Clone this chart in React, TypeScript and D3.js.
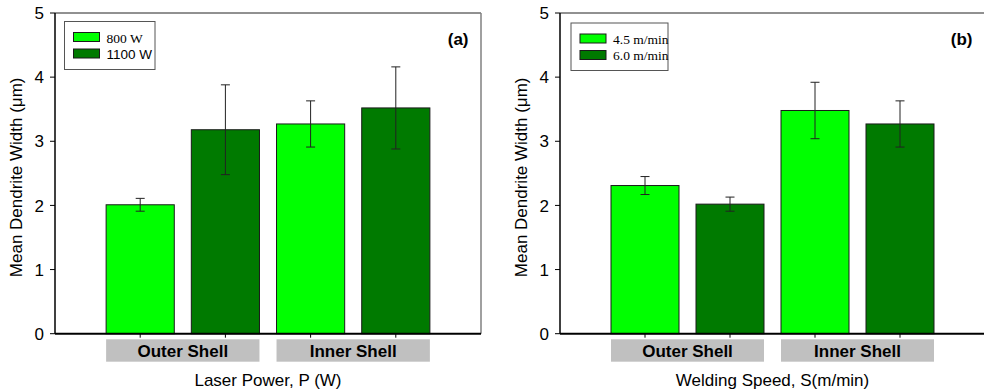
import React from "react";
import { scaleBand, scaleLinear } from "d3";

// data
const categories = ["Outer Shell", "Inner Shell"];
const yTicks = [0, 1, 2, 3, 4, 5];

const powerSeries = ["800 W", "1100 W"];
const power800 = [2.01, 3.27];
const power800Err = [0.1, 0.36];
const power1100 = [3.18, 3.52];
const power1100Err = [0.7, 0.64];

const speedSeries = ["4.5 m/min", "6.0 m/min"];
const speed45 = [2.31, 3.48];
const speed45Err = [0.14, 0.44];
const speed60 = [2.02, 3.27];
const speed60Err = [0.11, 0.36];

const colors = ["#00ff00", "#007a00"];
const SANS = "Arial, 'Liberation Sans', Helvetica, sans-serif";
const SERIF = "'Times New Roman', 'Liberation Serif', serif";

const Panel = ({ left, right, tag, xTitle, series, means, errs, legendFonts, legendBox }) => {
  const top = 13;
  const bottom = 333.7;

  const y = scaleLinear().domain([0, 5]).range([bottom, top]);
  const step = (right - left) / 5;
  const x0 = scaleBand().domain(categories).range([left + step / 2, right - step / 2]);
  const x1 = scaleBand()
    .domain(series)
    .range([0, x0.bandwidth()])
    .paddingInner(0.2)
    .paddingOuter(0.1);

  const bw = x1.bandwidth();

  return (
    <g>
      {/* frame */}
      <line x1={left} x2={right} y1={top} y2={top} stroke="#222" strokeWidth={1} />
      <line x1={right} x2={right} y1={top} y2={bottom} stroke="#808080" strokeWidth={1.5} />

      {/* bars */}
      {categories.map((c, ci) =>
        series.map((s, si) => {
          const bx = x0(c) + x1(s);
          const v = means[si][ci];
          const e = errs[si][ci];
          const cx = bx + bw / 2;
          return (
            <g key={c + s}>
              <rect
                x={bx}
                y={y(v)}
                width={bw}
                height={y(0) - y(v)}
                fill={colors[si]}
                stroke="#1a1a1a"
                strokeWidth={1}
              />
              <line x1={cx} x2={cx} y1={y(v + e)} y2={y(v - e)} stroke="#222" strokeWidth={1} />
              <line x1={cx - 4.5} x2={cx + 4.5} y1={y(v + e)} y2={y(v + e)} stroke="#222" strokeWidth={1} />
              <line x1={cx - 4.5} x2={cx + 4.5} y1={y(v - e)} y2={y(v - e)} stroke="#222" strokeWidth={1} />
              <line x1={cx} x2={cx} y1={bottom} y2={bottom + 4} stroke="#000" strokeWidth={1} />
            </g>
          );
        })
      )}

      {/* y axis */}
      <line x1={left} x2={left} y1={top} y2={bottom} stroke="#000" strokeWidth={1.5} />
      {yTicks.map((t) => (
        <g key={t}>
          <line x1={left - 5} x2={left} y1={y(t)} y2={y(t)} stroke="#000" strokeWidth={1} />
          <text
            x={left - 11}
            y={y(t)}
            dy="0.36em"
            textAnchor="end"
            fontSize="17"
            fontFamily={SANS}
          >
            {t}
          </text>
        </g>
      ))}
      <text
        transform={`translate(${left - 33}, ${(top + bottom) / 2 + 4}) rotate(-90)`}
        textAnchor="middle"
        fontSize="17"
        fontFamily={SANS}
      >
        Mean Dendrite Width (μm)
      </text>

      {/* x axis */}
      <line x1={left} x2={right} y1={bottom} y2={bottom} stroke="#000" strokeWidth={2} />
      {categories.map((c) => {
        const bx = x0(c) + x1(series[0]);
        const ex = x0(c) + x1(series[1]) + bw;
        return (
          <g key={c}>
            <rect x={bx} y={339.3} width={ex - bx} height={22.4} fill="#c0c0c0" />
            <text
              x={(bx + ex) / 2}
              y={356.5}
              textAnchor="middle"
              fontSize="17"
              fontWeight="bold"
              fontFamily={SANS}
            >
              {c}
            </text>
          </g>
        );
      })}
      <text
        x={(left + right) / 2}
        y={385.5}
        textAnchor="middle"
        fontSize="17"
        fontFamily={SANS}
      >
        {xTitle}
      </text>

      {/* panel tag */}
      <text
        x={right - 12.5}
        y={45}
        textAnchor="end"
        fontSize="17"
        fontWeight="bold"
        fontFamily={SANS}
      >
        {tag}
      </text>

      {/* legend */}
      <rect
        x={legendBox.x}
        y={legendBox.y}
        width={legendBox.w}
        height={legendBox.h}
        fill="#fff"
        stroke="#555"
        strokeWidth={1}
      />
      {series.map((s, si) => (
        <g key={s}>
          <rect
            x={legendBox.x + 9}
            y={legendBox.y + 11 + si * 16.5}
            width={26}
            height={9}
            fill={colors[si]}
            stroke="#1a1a1a"
            strokeWidth={1}
          />
          <text
            x={legendBox.x + 42}
            y={legendBox.y + 21 + si * 16.3}
            fontSize="13.5"
            fontFamily={legendFonts[si]}
          >
            {s}
          </text>
        </g>
      ))}
    </g>
  );
};

export default function App() {
  return (
    <div>
      <style>{"body{margin:0}"}</style>
      <svg width={984} height={391} style={{ display: "block", background: "#fff" }}>
        <Panel
          left={55}
          right={481}
          tag="(a)"
          xTitle="Laser Power, P (W)"
          series={powerSeries}
          means={[power800, power1100]}
          errs={[power800Err, power1100Err]}
          legendFonts={[SERIF, SANS]}
          legendBox={{ x: 64.5, y: 21.5, w: 90.5, h: 48 }}
        />
        <Panel
          left={560}
          right={985}
          tag="(b)"
          xTitle="Welding Speed, S(m/min)"
          series={speedSeries}
          means={[speed45, speed60]}
          errs={[speed45Err, speed60Err]}
          legendFonts={[SERIF, SERIF]}
          legendBox={{ x: 571, y: 23, w: 97, h: 47.5 }}
        />
      </svg>
    </div>
  );
}
